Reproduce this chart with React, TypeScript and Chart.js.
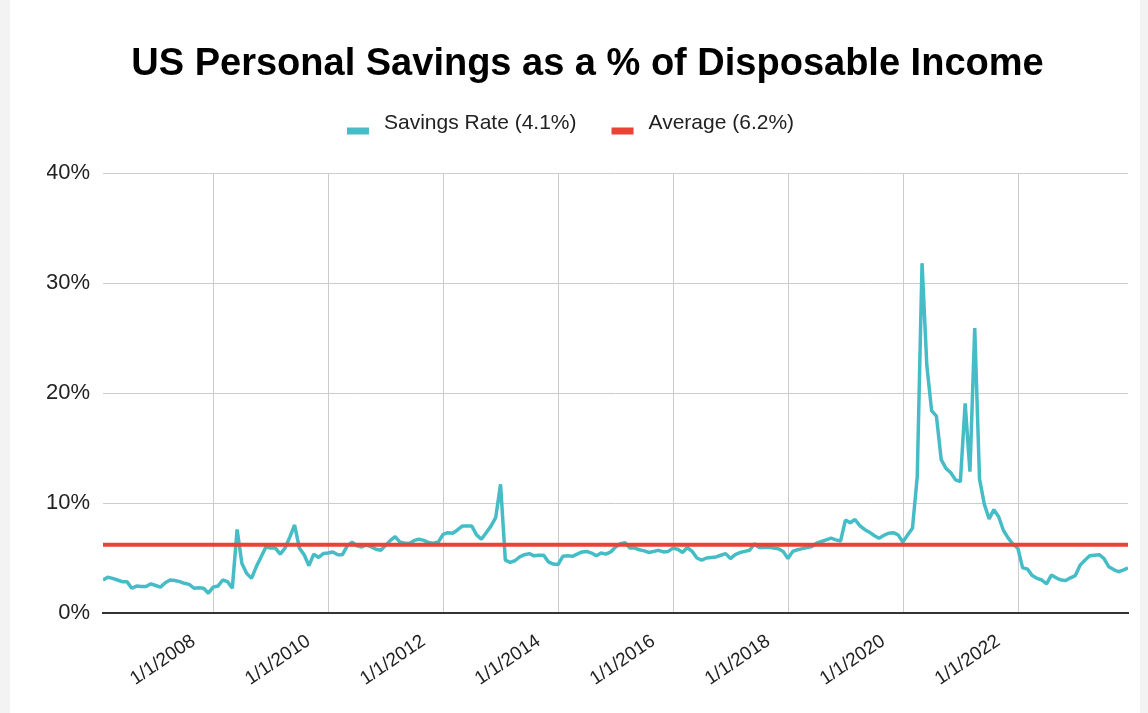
import React, { useEffect, useRef } from 'react';
import { Chart, registerables } from 'chart.js';

Chart.register(...registerables);

// Monthly personal saving rate (%), Jan 2006 .. Nov 2023 (index 0 = Jan 2006)
const savings2006 = [3.0, 3.25, 3.15, 3.0, 2.85, 2.85, 2.25, 2.45, 2.4, 2.4, 2.65, 2.5];
const savings2007 = [2.35, 2.75, 3.0, 2.95, 2.85, 2.7, 2.6, 2.25, 2.3, 2.25, 1.8, 2.35];
const savings2008 = [2.45, 3.0, 2.85, 2.25, 7.6, 4.5, 3.6, 3.15, 4.2, 5.1, 6.0, 5.9];
const savings2009 = [5.9, 5.35, 5.9, 6.9, 8.0, 5.9, 5.3, 4.3, 5.35, 5.05, 5.4, 5.45];
const savings2010 = [5.55, 5.3, 5.3, 6.1, 6.45, 6.1, 6.0, 6.2, 6.0, 5.8, 5.7, 6.15];
const savings2011 = [6.6, 6.95, 6.45, 6.35, 6.35, 6.6, 6.7, 6.6, 6.4, 6.35, 6.45, 7.15];
const savings2012 = [7.3, 7.25, 7.55, 7.9, 7.9, 7.9, 7.1, 6.7, 7.3, 7.9, 8.7, 11.7];
const savings2013 = [4.8, 4.6, 4.75, 5.1, 5.3, 5.4, 5.2, 5.25, 5.25, 4.65, 4.45, 4.4];
const savings2014 = [5.15, 5.2, 5.15, 5.35, 5.55, 5.6, 5.45, 5.2, 5.45, 5.35, 5.55, 6.0];
const savings2015 = [6.3, 6.4, 5.9, 5.9, 5.75, 5.65, 5.5, 5.6, 5.7, 5.55, 5.6, 5.9];
const savings2016 = [5.8, 5.5, 5.95, 5.6, 5.0, 4.8, 5.0, 5.05, 5.1, 5.25, 5.4, 4.95];
const savings2017 = [5.3, 5.5, 5.6, 5.7, 6.3, 5.95, 5.95, 6.0, 5.9, 5.85, 5.6, 4.95];
const savings2018 = [5.6, 5.75, 5.85, 5.95, 6.05, 6.35, 6.5, 6.65, 6.8, 6.65, 6.55, 8.45];
const savings2019 = [8.2, 8.5, 7.95, 7.6, 7.35, 7.05, 6.8, 7.05, 7.25, 7.3, 7.1, 6.45];
const savings2020 = [7.1, 7.7, 12.4, 31.8, 22.5, 18.4, 17.9, 13.95, 13.15, 12.75, 12.1, 11.95];
const savings2021 = [19.05, 12.85, 25.9, 12.2, 9.9, 8.55, 9.4, 8.75, 7.5, 6.8, 6.25, 5.9];
const savings2022 = [4.1, 4.0, 3.4, 3.15, 3.0, 2.65, 3.45, 3.2, 3.0, 2.95, 3.2, 3.4];
const savings2023 = [4.35, 4.8, 5.2, 5.25, 5.3, 4.95, 4.2, 3.95, 3.75, 3.9, 4.1];

const savingsRate = [
  ...savings2006, ...savings2007, ...savings2008, ...savings2009, ...savings2010,
  ...savings2011, ...savings2012, ...savings2013, ...savings2014, ...savings2015,
  ...savings2016, ...savings2017, ...savings2018, ...savings2019, ...savings2020,
  ...savings2021, ...savings2022, ...savings2023,
];

const averageRate = 6.2;

// x ticks: month index (from Jan 2006) of the labelled gridlines
const xTickMonths = [24, 48, 72, 96, 120, 144, 168, 192];
const xTickLabels = ['1/1/2008', '1/1/2010', '1/1/2012', '1/1/2014', '1/1/2016', '1/1/2018', '1/1/2020', '1/1/2022'];
const yTickValues = [0, 10, 20, 30, 40];

const titleText = 'US Personal Savings as a % of Disposable Income';
const seriesLabels = ['Savings Rate (4.1%)', 'Average (6.2%)'];
const seriesColors = ['#46bdc6', '#ea4335'];

const FONT = '"Liberation Sans", Arial, Helvetica, sans-serif';

const legendPlugin = {
  id: 'sheetLegend',
  afterDraw(chart: any) {
    const ctx = chart.ctx;
    ctx.save();
    ctx.font = `21px ${FONT}`;
    const boxW = 22, boxH = 7, gapBox = 15, gapItem = 35;
    const items = chart.data.datasets.map((ds: any) => ({ text: ds.label, color: ds.borderColor }));
    const widths = items.map((it: any) => ctx.measureText(it.text).width);
    let total = 0;
    items.forEach((_: any, i: number) => {
      total += boxW + gapBox + widths[i];
      if (i < items.length - 1) total += gapItem;
    });
    let x = chart.width / 2 - 4.5 - total / 2;
    const textY = 123;
    items.forEach((it: any, i: number) => {
      ctx.fillStyle = it.color;
      ctx.fillRect(x, textY + 4.5, boxW, boxH);
      x += boxW + gapBox;
      ctx.fillStyle = '#222';
      ctx.textBaseline = 'middle';
      ctx.textAlign = 'left';
      ctx.fillText(it.text, x, textY);
      x += widths[i] + gapItem;
    });
    ctx.restore();
  },
};

export default function App() {
  const canvasRef = useRef<HTMLCanvasElement | null>(null);

  useEffect(() => {
    if (!canvasRef.current) return;
    const lastIndex = savingsRate.length - 1;
    const chart = new Chart(canvasRef.current, {
      type: 'line',
      data: {
        datasets: [
          {
            label: seriesLabels[0],
            data: savingsRate.map((v, i) => ({ x: i, y: v })),
            borderColor: seriesColors[0],
            backgroundColor: seriesColors[0],
            borderWidth: 3.5,
            borderJoinStyle: 'bevel',
            pointRadius: 0,
            tension: 0,
            order: 1,
          },
          {
            label: seriesLabels[1],
            data: [
              { x: 0, y: averageRate },
              { x: lastIndex, y: averageRate },
            ],
            borderColor: seriesColors[1],
            backgroundColor: seriesColors[1],
            borderWidth: 4,
            pointRadius: 0,
            order: 0,
          },
        ],
      },
      options: {
        responsive: false,
        animation: false,
        devicePixelRatio: 1,
        layout: { padding: { left: 37, right: 12, top: 0, bottom: 0 } },
        plugins: {
          legend: { display: false },
          tooltip: { enabled: false },
          title: {
            display: true,
            text: titleText,
            color: '#000',
            font: { family: FONT, size: 38, weight: 'bold' },
            padding: { top: 42, bottom: 85.4 },
          },
        },
        scales: {
          x: {
            type: 'linear',
            min: 0,
            max: lastIndex,
            afterBuildTicks: (scale: any) => {
              scale.ticks = xTickMonths.map((m) => ({ value: m - 0.9 }));
            },
            afterFit: (scale: any) => {
              scale.height = 100;
            },
            ticks: {
              autoSkip: false,
              minRotation: 34,
              maxRotation: 34,
              labelOffset: -20,
              padding: 17,
              color: '#222',
              font: { family: FONT, size: 19 },
              callback: (_v: any, index: number) => xTickLabels[index],
            },
            grid: { color: '#cccccc', lineWidth: 1, drawTicks: false },
            border: { display: true, color: '#333333', width: 2 },
          },
          y: {
            min: 0,
            max: 40,
            afterBuildTicks: (scale: any) => {
              scale.ticks = yTickValues.map((v) => ({ value: v }));
            },
            afterFit: (scale: any) => {
              scale.width = 56;
            },
            ticks: {
              padding: 13,
              color: '#222',
              font: { family: FONT, size: 22 },
              callback: (v: any) => `${v}%`,
            },
            grid: {
              color: (c: any) => (c.tick && c.tick.value === 0 ? '#333333' : '#cccccc'),
              lineWidth: (c: any) => (c.tick && c.tick.value === 0 ? 2 : 1),
              drawTicks: false,
            },
            border: { display: false },
          },
        },
      },
      plugins: [legendPlugin],
    });
    return () => chart.destroy();
  }, []);

  return (
    <div style={{ position: 'fixed', left: 0, top: 0, width: '100vw', height: '100vh', background: '#f3f3f3' }}>
      <div style={{ position: 'absolute', left: 10, top: 0, width: 1130, height: 713, background: '#ffffff' }}>
        <canvas ref={canvasRef} width={1130} height={713} style={{ display: 'block' }} />
      </div>
    </div>
  );
}
